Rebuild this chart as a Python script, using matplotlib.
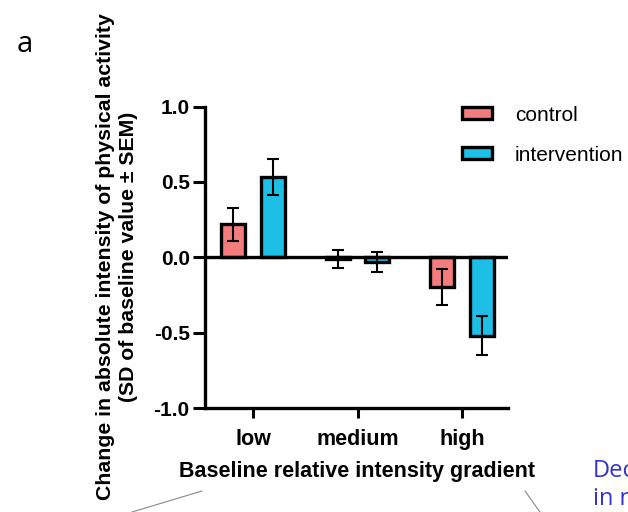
import matplotlib
matplotlib.use('Agg')
import matplotlib.pyplot as plt
from matplotlib.lines import Line2D
import numpy as np

plt.rcParams['axes.unicode_minus'] = False
plt.rcParams['font.family'] = ['Liberation Sans', 'DejaVu Sans']

groups = ['low', 'medium', 'high']
series_names = ['control', 'intervention']
control = [0.22, -0.01, -0.20]
control_sem = [0.11, 0.06, 0.12]
intervention = [0.53, -0.03, -0.52]
intervention_sem = [0.12, 0.065, 0.13]
yticks = [-1.0, -0.5, 0.0, 0.5, 1.0]

col_control = '#F47C7C'
col_interv = '#1DBFE7'

W, H = 628, 512
fig = plt.figure(figsize=(W / 100, H / 100), dpi=100)
ax = fig.add_axes([205 / W, 104 / H, 303 / W, 301.5 / H])

x = np.arange(len(groups))
off = 0.19
bw = 0.23
err_kw = dict(ecolor='black', elinewidth=1.5, capsize=4.5, capthick=1.5, zorder=4)
b1 = ax.bar(x - off, control, bw, color=col_control, edgecolor='black', linewidth=2.4,
            label=series_names[0], zorder=3)
ax.errorbar(x - off, control, yerr=control_sem, fmt='none', **err_kw)
b2 = ax.bar(x + off, intervention, bw, color=col_interv, edgecolor='black', linewidth=2.4,
            label=series_names[1], zorder=3)
ax.errorbar(x + off, intervention, yerr=intervention_sem, fmt='none', **err_kw)

ax.axhline(0, color='black', linewidth=2.4, zorder=5)
ax.set_xlim(-0.46, 2.44)
ax.set_ylim(-1.0, 1.0)
ax.set_yticks(yticks)
ax.set_yticklabels([f'{v:.1f}' for v in yticks])
ax.set_xticks(x)
ax.set_xticklabels(groups)
for s in ['top', 'right']:
    ax.spines[s].set_visible(False)
for s in ['left', 'bottom']:
    ax.spines[s].set_linewidth(2.4)
ax.tick_params(axis='y', width=2.2, length=9, labelsize=15, pad=2)
ax.tick_params(axis='x', width=2.2, length=7.5, labelsize=15.5, pad=7.5)
for lab in ax.get_xticklabels() + ax.get_yticklabels():
    lab.set_fontweight('bold')

leg = ax.legend(handles=[b1, b2], loc='upper left', bbox_to_anchor=(443 / W, 1 - 87 / H),
                bbox_transform=fig.transFigure, frameon=False, fontsize=15,
                handlelength=1.45, handleheight=0.5, labelspacing=1.0, handletextpad=1.1)

fig.text(117 / W, 1 - 257 / H,
         'Change in absolute intensity of physical activity\n(SD of baseline value \u00b1 SEM)',
         rotation=90, ha='center', va='center', fontsize=15.3, fontweight='bold',
         multialignment='center', linespacing=1.3)
fig.text(357 / W, 1 - 472 / H, 'Baseline relative intensity gradient',
         ha='center', va='center', fontsize=15.5, fontweight='bold')

fig.text(17 / W, 1 - 44 / H, 'a', ha='left', va='center', fontsize=21,
         family=['Open Sans', 'DejaVu Sans'])
fig.text(593 / W, 1 - 477 / H, 'Dec', ha='left', va='baseline', fontsize=17,
         color='#3333CC', family=['Open Sans', 'DejaVu Sans'])
fig.text(593 / W, 1 - 505 / H, 'in n', ha='left', va='baseline', fontsize=17,
         color='#3333CC', family=['Open Sans', 'DejaVu Sans'])

fig.add_artist(Line2D([132 / W, 202 / W], [1 - 512 / H, 1 - 491 / H],
                      color='#888888', linewidth=0.8, transform=fig.transFigure))
fig.add_artist(Line2D([525 / W, 540 / W], [1 - 491 / H, 1 - 512 / H],
                      color='#888888', linewidth=0.8, transform=fig.transFigure))

fig.savefig('out.png', dpi=100)
